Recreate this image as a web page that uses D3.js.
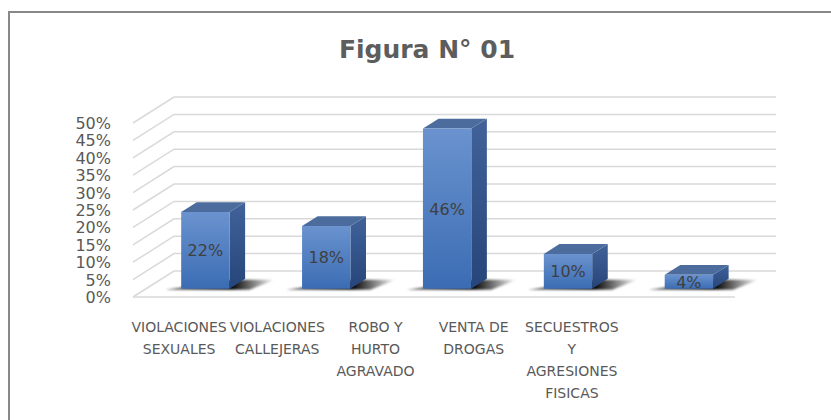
<!DOCTYPE html>
<html>
<head>
<meta charset="utf-8">
<script src="https://d3js.org/d3.v7.min.js"></script>
<title>Figura N° 01</title>
<style>
body { margin: 0; background: #fff; }
svg { display: block; }
text { font-family: "DejaVu Sans", sans-serif; }
</style>
</head>
<body>
<svg width="831" height="420"></svg>
<script>

// data
let categories = ["VIOLACIONES SEXUALES", "VIOLACIONES CALLEJERAS", "ROBO Y HURTO AGRAVADO",
                  "VENTA DE DROGAS", "SECUESTROS Y AGRESIONES FISICAS"];
let labelLines = [["VIOLACIONES", "SEXUALES"], ["VIOLACIONES", "CALLEJERAS"],
                  ["ROBO Y", "HURTO", "AGRAVADO"], ["VENTA DE", "DROGAS"],
                  ["SECUESTROS", "Y", "AGRESIONES", "FISICAS"]];
let values = [0.22, 0.18, 0.46, 0.10, 0.04];
let tickValues = [0, 0.05, 0.10, 0.15, 0.20, 0.25, 0.30, 0.35, 0.40, 0.45, 0.50];

let svg = d3.select("svg");

// fake 3d: depth goes up and right
let DX = 41, DY = -26;
let Z0 = 0.32, Z1 = 0.70; // bar front / back depth

let y = d3.scaleLinear().domain([0, 0.5]).range([297, 123]);
let x = d3.scaleBand().domain(categories).range([133, 735]).paddingInner(0.6).paddingOuter(0.29);
let xLab = d3.scaleBand().domain(categories).range([130, 621]);
let fmt = d3.format(".0%");

function proj(px, v, z) {
	return [px + z * DX, y(v) + z * DY];
}

// frame
svg.append("rect")
	.attr("x", 9).attr("y", 12)
	.attr("width", 900).attr("height", 500)
	.attr("fill", "none")
	.attr("stroke", "#898989")
	.attr("stroke-width", 2);

svg.append("text")
	.attr("x", 427).attr("y", 58)
	.attr("text-anchor", "middle")
	.attr("font-size", 25)
	.attr("font-weight", "bold")
	.attr("fill", "#5d5d5d")
	.text("Figura N° 01");

// gradients + shadow blur
let defs = svg.append("defs");
function vgrad(id, c1, c2) {
	let g = defs.append("linearGradient").attr("id", id)
		.attr("x1", 0).attr("y1", 0).attr("x2", 0).attr("y2", 1);
	g.append("stop").attr("offset", "0%").attr("stop-color", c1);
	g.append("stop").attr("offset", "100%").attr("stop-color", c2);
}
vgrad("gFront", "#6a93cf", "#3b6cb3");
vgrad("gSide", "#41639a", "#26457a");
let sg = defs.append("linearGradient").attr("id", "gShadow")
	.attr("x1", 0).attr("y1", 0).attr("x2", 1).attr("y2", 0);
sg.append("stop").attr("offset", "0%").attr("stop-color", "#000").attr("stop-opacity", 0.55);
sg.append("stop").attr("offset", "60%").attr("stop-color", "#000").attr("stop-opacity", 1);
sg.append("stop").attr("offset", "100%").attr("stop-color", "#000").attr("stop-opacity", 0);
defs.append("filter").attr("id", "blur")
	.attr("x", "-20%").attr("y", "-50%").attr("width", "140%").attr("height", "200%")
	.append("feGaussianBlur").attr("stdDeviation", 1.2);

// walls grid
let x0 = x.range()[0], x1 = x.range()[1];
let grid = svg.append("g").attr("stroke", "#d9d9d9").attr("stroke-width", 1.5).attr("fill", "none");
tickValues.forEach(function(t) {
	let a = proj(x0, t, 0), b = proj(x0, t, 1), c = proj(x1, t, 1);
	grid.append("polyline").attr("points", [a, b, c].map(p => p.join(",")).join(" "));
});
grid.append("line")
	.attr("x1", x0).attr("y1", y(0))
	.attr("x2", x1).attr("y2", y(0));

// y tick labels
svg.append("g").selectAll("text").data(tickValues).enter().append("text")
	.attr("x", 111)
	.attr("y", d => y(d) + 6)
	.attr("text-anchor", "end")
	.attr("font-size", 16)
	.attr("fill", "#595959")
	.text(d => fmt(d));

// bars
let bars = svg.append("g").selectAll("g").data(values).enter().append("g");

bars.each(function(v, i) {
	let g = d3.select(this);
	let bx0 = x(categories[i]), bx1 = bx0 + x.bandwidth();
	let fbl = proj(bx0, 0, Z0), fbr = proj(bx1, 0, Z0);
	let ftl = proj(bx0, v, Z0), ftr = proj(bx1, v, Z0);
	let bbr = proj(bx1, 0, Z1), btr = proj(bx1, v, Z1), btl = proj(bx0, v, Z1);
	let pts = arr => arr.map(p => p.join(",")).join(" ");

	g.append("polygon")
		.attr("points", pts([[fbl[0] - 16, fbl[1] + 1], [fbr[0] + 20, fbr[1] + 1],
		                     [bbr[0] + 30, bbr[1] + 1], [fbr[0] + 4, bbr[1] + 1]]))
		.attr("fill", "url(#gShadow)")
		.attr("filter", "url(#blur)");
	g.append("polygon")
		.attr("points", pts([fbr, ftr, btr, bbr]))
		.attr("fill", "url(#gSide)");
	g.append("polygon")
		.attr("points", pts([ftl, ftr, btr, btl]))
		.attr("fill", "#4c6c9d");
	g.append("polygon")
		.attr("points", pts([fbl, ftl, ftr, fbr]))
		.attr("fill", "url(#gFront)");
	g.append("text")
		.attr("x", (fbl[0] + fbr[0]) / 2)
		.attr("y", (fbl[1] + ftl[1]) / 2 + 6)
		.attr("text-anchor", "middle")
		.attr("font-size", 16)
		.attr("fill", "#404040")
		.text(fmt(v));
});

// category labels
let cat = svg.append("g").selectAll("text").data(categories).enter().append("text")
	.attr("text-anchor", "middle")
	.attr("font-size", 14)
	.attr("fill", "#595959");
cat.each(function(c, i) {
	let t = d3.select(this);
	labelLines[i].forEach(function(line, j) {
		t.append("tspan")
			.attr("x", xLab(c) + xLab.bandwidth() / 2)
			.attr("y", 332 + j * 22)
			.text(line);
	});
});

</script>
</body>
</html>
